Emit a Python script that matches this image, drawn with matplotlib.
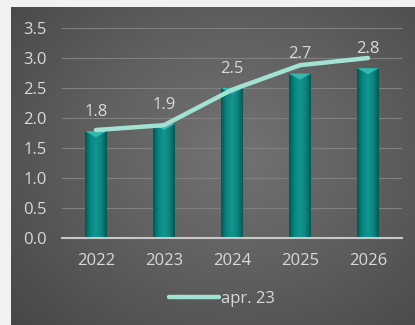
import numpy as np
import matplotlib.pyplot as plt
from matplotlib.colors import LinearSegmentedColormap
from matplotlib.patches import Rectangle, Polygon

years = ["2022", "2023", "2024", "2025", "2026"]
bar_values = [1.78, 1.9, 2.5, 2.74, 2.83]
line_values = [1.8, 1.88, 2.47, 2.88, 3.0]
series_name = "apr. 23"

plt.rcParams['font.family'] = ['Open Sans', 'DejaVu Sans']
text_color = '#d9d9d9'
fs = 12

fig = plt.figure(figsize=(4.15, 3.25), dpi=100)
fig.patch.set_facecolor('#f1f1f1')

# dark panel with radial shading
bg = fig.add_axes([11 / 415, 0, 404 / 415, 318 / 325])
yy, xx = np.mgrid[0:1:200j, 0:1:250j]
r = np.sqrt(((xx - 0.55) * 1.0) ** 2 + ((yy - 0.45) * 0.9) ** 2)
shade = np.clip(r / 0.75, 0, 1)
bg_cmap = LinearSegmentedColormap.from_list('panel', ['#737373', '#5e5e5e', '#474747'])
bg.imshow(shade, cmap=bg_cmap, aspect='auto', extent=[0, 1, 0, 1], origin='upper')
bg.set_axis_off()

ax = fig.add_axes([62 / 415, 1 - 238 / 325, 340 / 415, 210 / 325])
ax.patch.set_alpha(0)
x = np.arange(len(years))
width = 0.32

bar_cmap = LinearSegmentedColormap.from_list('cyl', ['#005955', '#0a8680', '#119690', '#0a8680', '#005955'])
grad = np.linspace(0, 1, 64).reshape(1, -1)
for xi, v in zip(x, bar_values):
    rect = Rectangle((xi - width / 2, 0), width, v, facecolor='none', edgecolor='none')
    ax.add_patch(rect)
    im = ax.imshow(grad, cmap=bar_cmap, aspect='auto', zorder=2,
                   extent=[xi - width / 2, xi + width / 2, 0, v])
    im.set_clip_path(rect)
    # bevelled top
    cap = Polygon([(xi - width / 2, v), (xi + width / 2, v), (xi, v - 0.1)],
                  closed=True, facecolor='#36b8b0', edgecolor='none', zorder=3)
    ax.add_patch(cap)
    ax.annotate(f"{v:.1f}", (xi, v), xytext=(0, 14), textcoords='offset points',
                ha='center', va='center', color=text_color, fontsize=fs, zorder=5)

ax.plot(x, line_values, color='#a3e2d2', linewidth=3.2, solid_capstyle='round',
        solid_joinstyle='round', zorder=4, label=series_name)

ax.set_xlim(-0.5, 4.5)
ax.set_ylim(0, 3.5)
ax.set_yticks(np.arange(0, 3.51, 0.5))
ax.set_yticklabels([f"{t:.1f}" for t in np.arange(0, 3.51, 0.5)])
ax.set_xticks(x)
ax.set_xticklabels(years)
ax.yaxis.grid(True, color='#808080', linewidth=0.8)
ax.set_axisbelow(True)
ax.tick_params(axis='both', length=0, colors=text_color, labelsize=fs)
ax.tick_params(axis='y', pad=11)
ax.tick_params(axis='x', pad=11)
for side in ['top', 'right', 'left']:
    ax.spines[side].set_visible(False)
ax.spines['bottom'].set_color('#c8c8c8')
ax.spines['bottom'].set_linewidth(1.5)

leg = ax.legend(loc='center', bbox_to_anchor=(0.47, -0.29), frameon=False,
                handlelength=3.0, handletextpad=0.1, fontsize=fs)
for t in leg.get_texts():
    t.set_color(text_color)

fig.savefig('out.png', dpi=100, facecolor=fig.get_facecolor())
